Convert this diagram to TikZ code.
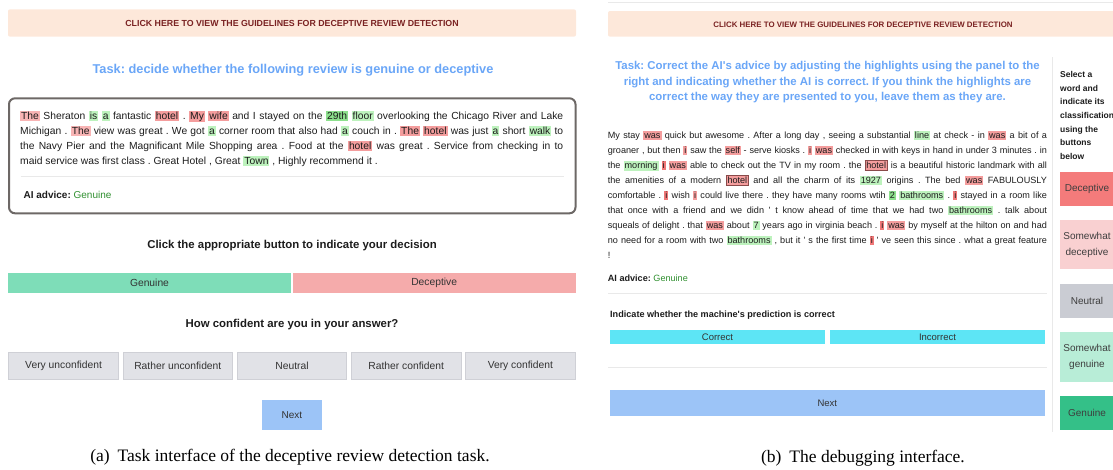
\documentclass[tikz,border=0pt]{standalone}
\usepackage{fontspec}
\setmainfont{Liberation Sans}
\newfontfamily\capfont{Liberation Serif}
\frenchspacing

\definecolor{bannerbg}{HTML}{FDE8DA}
\definecolor{bannertx}{HTML}{7A2222}
\definecolor{taskblue}{HTML}{6AA6F7}
\definecolor{boxgray}{HTML}{6D6866}
\definecolor{rulegray}{HTML}{E9E9E9}
\definecolor{advgreen}{HTML}{2F8F2F}
\definecolor{ink}{HTML}{1C1C1C}
\definecolor{btngen}{HTML}{7EDDB8}
\definecolor{btndec}{HTML}{F5ABAB}
\definecolor{btnconf}{HTML}{E1E2E7}
\definecolor{btnconfbd}{HTML}{CFD0D6}
\definecolor{btnnext}{HTML}{9CC4F7}
\definecolor{btncyan}{HTML}{5DE5F5}
\definecolor{sdec}{HTML}{F47B7B}
\definecolor{ssdec}{HTML}{F9D0D1}
\definecolor{sneu}{HTML}{CACCD3}
\definecolor{ssgen}{HTML}{B8EDD7}
\definecolor{sgen}{HTML}{34C088}
% word highlights
\definecolor{hr}{HTML}{F8B4B4}
\definecolor{hR}{HTML}{F49D9D}
\definecolor{hRR}{HTML}{F07878}
\definecolor{hg}{HTML}{BDF2BD}
\definecolor{hG}{HTML}{8DE08D}
\definecolor{selbd}{HTML}{8A4A4A}

% highlighted word, and a word picked in the side panel
\newcommand{\hlw}[2]{{\setlength{\fboxsep}{0pt}\colorbox{#1}{\rule[-.14em]{0pt}{1em}\hspace{1pt}#2\hspace{1pt}}}}
\newcommand{\hlsel}[2]{{\setlength{\fboxsep}{0pt}\setlength{\fboxrule}{.6pt}\fcolorbox{selbd}{#1}{\rule[-.14em]{0pt}{1em}\hspace{1pt}#2\hspace{1pt}}}}
% one justified line
\newcommand{\jline}[2]{\makebox[#1][s]{#2}}
\newcommand{\apos}{\textquotesingle}

\tikzset{
  every node/.style={inner sep=0pt},
  banner/.style={fill=bannerbg, rounded corners=2pt},
  bannertxt/.style={anchor=base, text=bannertx, font=\bfseries\fontsize{#1}{10}\selectfont},
  tasktxt/.style={anchor=base, text=taskblue, font=\bfseries\fontsize{#1}{14}\selectfont},
  headtxt/.style={anchor=base, text=ink, font=\bfseries\fontsize{#1}{12}\selectfont},
  bodytxt/.style={anchor=base west, text=ink, font=\fontsize{#1}{15}\selectfont},
  btnlbl/.style={text=ink!90, align=center, font=\fontsize{#1}{16}\selectfont},
  captxt/.style={anchor=base, text=black, font=\capfont\fontsize{17.5}{20}\selectfont},
  hair/.style={draw=rulegray, line width=.8pt},
}

\begin{document}
\begin{tikzpicture}[x=1pt,y=-1pt]
\useasboundingbox (0,0) rectangle (1113,469);
\clip (0,0) rectangle (1113,469);

%% (a) task interface
\fill[banner] (8,9.3) rectangle (576,36.7);
\node[bannertxt=8.8] (guideA) at (292,26.5) {CLICK HERE TO VIEW THE GUIDELINES FOR DECEPTIVE REVIEW DETECTION};
\node[tasktxt=12.8] (taskA) at (293,73.6) {Task: decide whether the following review is genuine or deceptive};

% review card
\draw[draw=boxgray, line width=2pt, rounded corners=6pt] (9,98.3) rectangle (575.5,213.3);
\foreach \txt [count=\i] in {
  {\hlw{hr}{The} Sheraton \hlw{hg}{is} \hlw{hg}{a} fantastic \hlw{hR}{hotel} . \hlw{hR}{My} \hlw{hR}{wife} and I stayed on the \hlw{hG}{29th} \hlw{hg}{floor} overlooking the Chicago River and Lake},
  {Michigan . \hlw{hr}{The} view was great . We got \hlw{hg}{a} corner room that also had \hlw{hg}{a} couch in . \hlw{hR}{The} \hlw{hR}{hotel} was just \hlw{hg}{a} short \hlw{hg}{walk} to},
  {the Navy Pier and the Magnificant Mile Shopping area . Food at the \hlw{hR}{hotel} was great . Service from checking in to}}
  \node[bodytxt=10.3] (revA\i) at ({20},{104.5+15*\i}) {\jline{543pt}{\txt}};
\node[bodytxt=10.3] (revA4) at (20,164.5) {maid service was first class . Great Hotel , Great \hlw{hg}{Town} , Highly recommend it .};
\draw[hair] (20.5,176) -- (563.5,176);
\node[bodytxt=10] (adviceA) at (23.4,198.6) {\textbf{AI advice:} \textcolor{advgreen}{Genuine}};

% decision
\node[headtxt=11.4] (decideQ) at (292,248) {Click the appropriate button to indicate your decision};
\fill[btngen] (8.3,273.3) rectangle (290.8,293.3);
\node[btnlbl=10.3] (genA) at (149.5,283.3) {Genuine};
\fill[btndec] (293,273.3) rectangle (575.5,293.3);
\node[btnlbl=10.3] (decA) at (434.2,283.3) {Deceptive};

% confidence
\node[headtxt=11.4] (confQ) at (292,327) {How confident are you in your answer?};
\foreach \lab [count=\i] in {Very unconfident,Rather unconfident,Neutral,Rather confident,Very confident}{
  \filldraw[fill=btnconf, draw=btnconfbd, line width=1pt] ({8.8+114.2*(\i-1)},352.2) rectangle ++(109.6,27.3);
  \node[btnlbl=10.3] (conf\i) at ({8.8+114.2*(\i-1)+54.8},365.8) {\lab};
}
\fill[btnnext] (261.8,400) rectangle (322,430);
\node[btnlbl=10] (nextA) at (291.9,415) {Next};
\node[captxt] (capA) at (290,461.5) {(a)\hspace{.45em}Task interface of the deceptive review detection task.};

%% (b) debugging interface
\draw[hair] (608,2.7) -- (1113,2.7);
\fill[banner] (608,11) rectangle (1125,36.7);
\node[bannertxt=7.9] (guideB) at (863,27) {CLICK HERE TO VIEW THE GUIDELINES FOR DECEPTIVE REVIEW DETECTION};
\foreach \txt [count=\i] in {
  {Task: Correct the AI\apos s advice by adjusting the highlights using the panel to the},
  {right and indicating whether the AI is correct. If you think the highlights are},
  {correct the way they are presented to you, leave them as they are.}}
  \node[tasktxt=11.4] (taskB\i) at ({827.5},{54.3+15.5*\i}) {\txt};

% side panel
\draw[hair] (1052,57) -- (1052,432);
\foreach \txt [count=\i] in {Select a,word and,indicate its,classification,using the,buttons,below}
  \node[anchor=base west, text=ink, font=\bfseries\fontsize{8.5}{10}\selectfont] (pick\i) at ({1060},{63.6+13.7*\i}) {\txt};
\foreach \ya/\yb/\col/\lab [count=\i] in {171.7/206/sdec/Deceptive, 220/269.3/ssdec/{Somewhat\\deceptive},
    284/318.3/sneu/Neutral, 331.7/381.7/ssgen/{Somewhat\\genuine}, 395.7/430/sgen/Genuine}{
  \fill[fill=\col] (1060,\ya) rectangle (1116,\yb);
  \node[btnlbl=10, text=ink!85] (side\i) at ({1087},{(\ya+\yb)/2}) {\lab};
}

% review text
\foreach \txt [count=\i] in {
  {My stay \hlw{hR}{was} quick but awesome . After a long day , seeing a substantial \hlw{hg}{line} at check - in \hlw{hR}{was} a bit of a},
  {groaner , but then \hlw{hR}{i} saw the \hlw{hR}{self} - serve kiosks . \hlw{hR}{i} \hlw{hR}{was} checked in with keys in hand in under 3 minutes . in},
  {the \hlw{hg}{morning} \hlw{hRR}{i} \hlw{hR}{was} able to check out the TV in my room . the \hlsel{hR}{hotel} is a beautiful historic landmark with all},
  {the amenities of a modern \hlsel{hR}{hotel} and all the charm of its \hlw{hg}{1927} origins . The bed \hlw{hR}{was} FABULOUSLY},
  {comfortable . \hlw{hRR}{i} wish \hlw{hR}{i} could live there . they have many rooms wtih \hlw{hG}{2} \hlw{hg}{bathrooms} . \hlw{hRR}{i} stayed in a room like},
  {that once with a friend and we didn \apos{} t know ahead of time that we had two \hlw{hg}{bathrooms} . talk about},
  {squeals of delight . that \hlw{hR}{was} about \hlw{hg}{7} years ago in virginia beach . \hlw{hRR}{i} \hlw{hR}{was} by myself at the hilton on and had},
  {no need for a room with two \hlw{hg}{bathrooms} , but it \apos{} s the first time \hlw{hRR}{i} \apos{} ve seen this since . what a great feature}}
  \node[bodytxt=9.1] (revB\i) at ({607.7},{123.8+15*\i}) {\jline{439pt}{\txt}};
\node[bodytxt=9.1] (revB9) at (607.7,258.8) {!};
\node[bodytxt=9.1] (adviceB) at (607.7,281) {\textbf{AI advice:} \textcolor{advgreen}{Genuine}};
\draw[hair] (608,293.3) -- (1047,293.3);

% prediction check
\node[headtxt=9.1, anchor=base west] (machineQ) at (610,317.6) {Indicate whether the machine\apos s prediction is correct};
\fill[btncyan] (610,330) rectangle (825,344);
\node[btnlbl=9.5] (corrB) at (717.5,337) {Correct};
\fill[btncyan] (830,330) rectangle (1045,344);
\node[btnlbl=9.5] (incorrB) at (937.5,337) {Incorrect};
\draw[hair] (608,367) -- (1047,367);
\fill[btnnext] (610,390) rectangle (1044.5,415.7);
\node[btnlbl=9.5] (nextB) at (827.3,402.9) {Next};
\node[captxt] (capB) at (863,462) {(b)\hspace{.45em}The debugging interface.};
\end{tikzpicture}
\end{document}
